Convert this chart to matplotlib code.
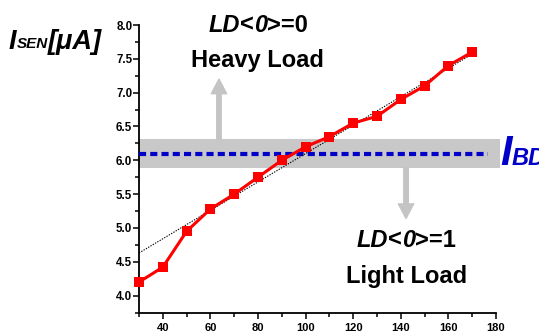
import numpy as np
import matplotlib
matplotlib.use("Agg")
import matplotlib.pyplot as plt
from matplotlib.patches import Rectangle, FancyArrowPatch
from matplotlib.ticker import MultipleLocator

plt.rcParams['font.family'] = ['Liberation Sans', 'DejaVu Sans']

# ---- data ----
load_x = [30, 40, 50, 60, 70, 80, 90, 100, 110, 120, 130, 140, 150, 160, 170]
isen = [4.20, 4.42, 4.95, 5.28, 5.50, 5.75, 6.00, 6.20, 6.35, 6.55, 6.65, 6.90, 7.10, 7.40, 7.60]
fit_x = [30, 170]
fit_y = [4.63, 7.57]
ibd_level = 6.10
band_low, band_high = 5.89, 6.31
x_ticks = [40, 60, 80, 100, 120, 140, 160, 180]
y_ticks = [4.0, 4.5, 5.0, 5.5, 6.0, 6.5, 7.0, 7.5, 8.0]

W, H = 539, 335
fig = plt.figure(figsize=(W / 100, H / 100), dpi=100)
ax = fig.add_axes([139 / W, 1 - 312.5 / H, (496 - 139) / W, (312.5 - 25) / H])
ax.set_xlim(30, 180)
ax.set_ylim(3.75, 8.0)

# band
ax.add_patch(Rectangle((30, band_low), 181.7 - 30, band_high - band_low,
                       facecolor='#c8c8c8', edgecolor='none', clip_on=False, zorder=1))
# I_BD dashed line
ax.plot([30, 176.6], [ibd_level, ibd_level], color='#0000c8', lw=3.0,
        linestyle=(0, (1.7, 1.0)), zorder=3, clip_on=False)
# fit line
ax.plot(fit_x, fit_y, color='black', lw=0.8, linestyle=(0, (1.2, 1.2)), zorder=4)
# data
ax.plot(load_x, isen, color='#ff0000', lw=2.2, marker='s', markersize=6.5,
        markeredgewidth=0, zorder=5, clip_on=False)

# arrows
def garrow(x0, y0, x1, y1):
    ap = FancyArrowPatch((x0, y0), (x1, y1),
                         arrowstyle='simple,head_length=10.5,head_width=11,tail_width=3.2',
                         mutation_scale=1, color='#c4c4c4', shrinkA=0, shrinkB=0, zorder=2)
    ax.add_patch(ap)

garrow(63.6, band_high, 63.6, 7.2)
garrow(142.2, band_low, 142.2, 5.14)

# axes styling
for s in ['top', 'right']:
    ax.spines[s].set_visible(False)
for s in ['left', 'bottom']:
    ax.spines[s].set_linewidth(1.3)
ax.set_xticks(x_ticks)
ax.set_yticks(y_ticks)
ax.xaxis.set_minor_locator(MultipleLocator(10))
ax.yaxis.set_minor_locator(MultipleLocator(0.25))
ax.tick_params(which='major', length=4.3, width=1.1, direction='out')
ax.tick_params(which='minor', length=2.6, width=1.1, direction='out')
ax.tick_params(axis='y', which='major', pad=0.5, labelsize=8.3)
ax.tick_params(axis='x', which='major', pad=3.5, labelsize=8)
ax.set_xticklabels([str(v) for v in x_ticks], fontweight='bold')
ax.set_yticklabels([f"{v:.1f}" for v in y_ticks], fontweight='bold')

renderer = fig.canvas.get_renderer()

def mixed(pieces, px, py, align='left'):
    """pieces: list of (text, size, style, dy_px, color)"""
    texts = []
    widths = []
    for txt, size, style, dy, color in pieces:
        t = fig.text(0, 0, txt, fontsize=size, fontstyle=style, fontweight='bold',
                     color=color, va='baseline', ha='left')
        bb = t.get_window_extent(renderer)
        texts.append((t, dy))
        widths.append(bb.width)
    total = sum(widths)
    x = px - total / 2 if align == 'center' else px
    for (t, dy), w in zip(texts, widths):
        t.set_position((x / W, 1 - (py + dy) / H))
        x += w

k = 'black'
mixed([("I", 19.5, 'italic', 0, k), ("SEN", 11, 'italic', -1.5, k), ("[μA]", 19.5, 'italic', 0, k)],
      9, 49)
mixed([("LD", 17, 'italic', 0, k), ("<", 17, 'normal', 0, k), ("0", 17, 'italic', 0, k),
       (">=0", 17, 'normal', 0, k)], 258, 31.7, 'center')
mixed([("Heavy Load", 17, 'normal', 0, k)], 257, 66.7, 'center')
mixed([("LD", 17, 'italic', 0, k), ("<", 17, 'normal', 0, k), ("0", 17, 'italic', 0, k),
       (">=1", 17, 'normal', 0, k)], 406, 246.7, 'center')
mixed([("Light Load", 17, 'normal', 0, k)], 406.5, 283.3, 'center')
mixed([("I", 30, 'italic', 0, '#0000c8'), ("BD", 17, 'italic', 0, '#0000c8')], 500, 165)

fig.savefig('out.png', dpi=100)
